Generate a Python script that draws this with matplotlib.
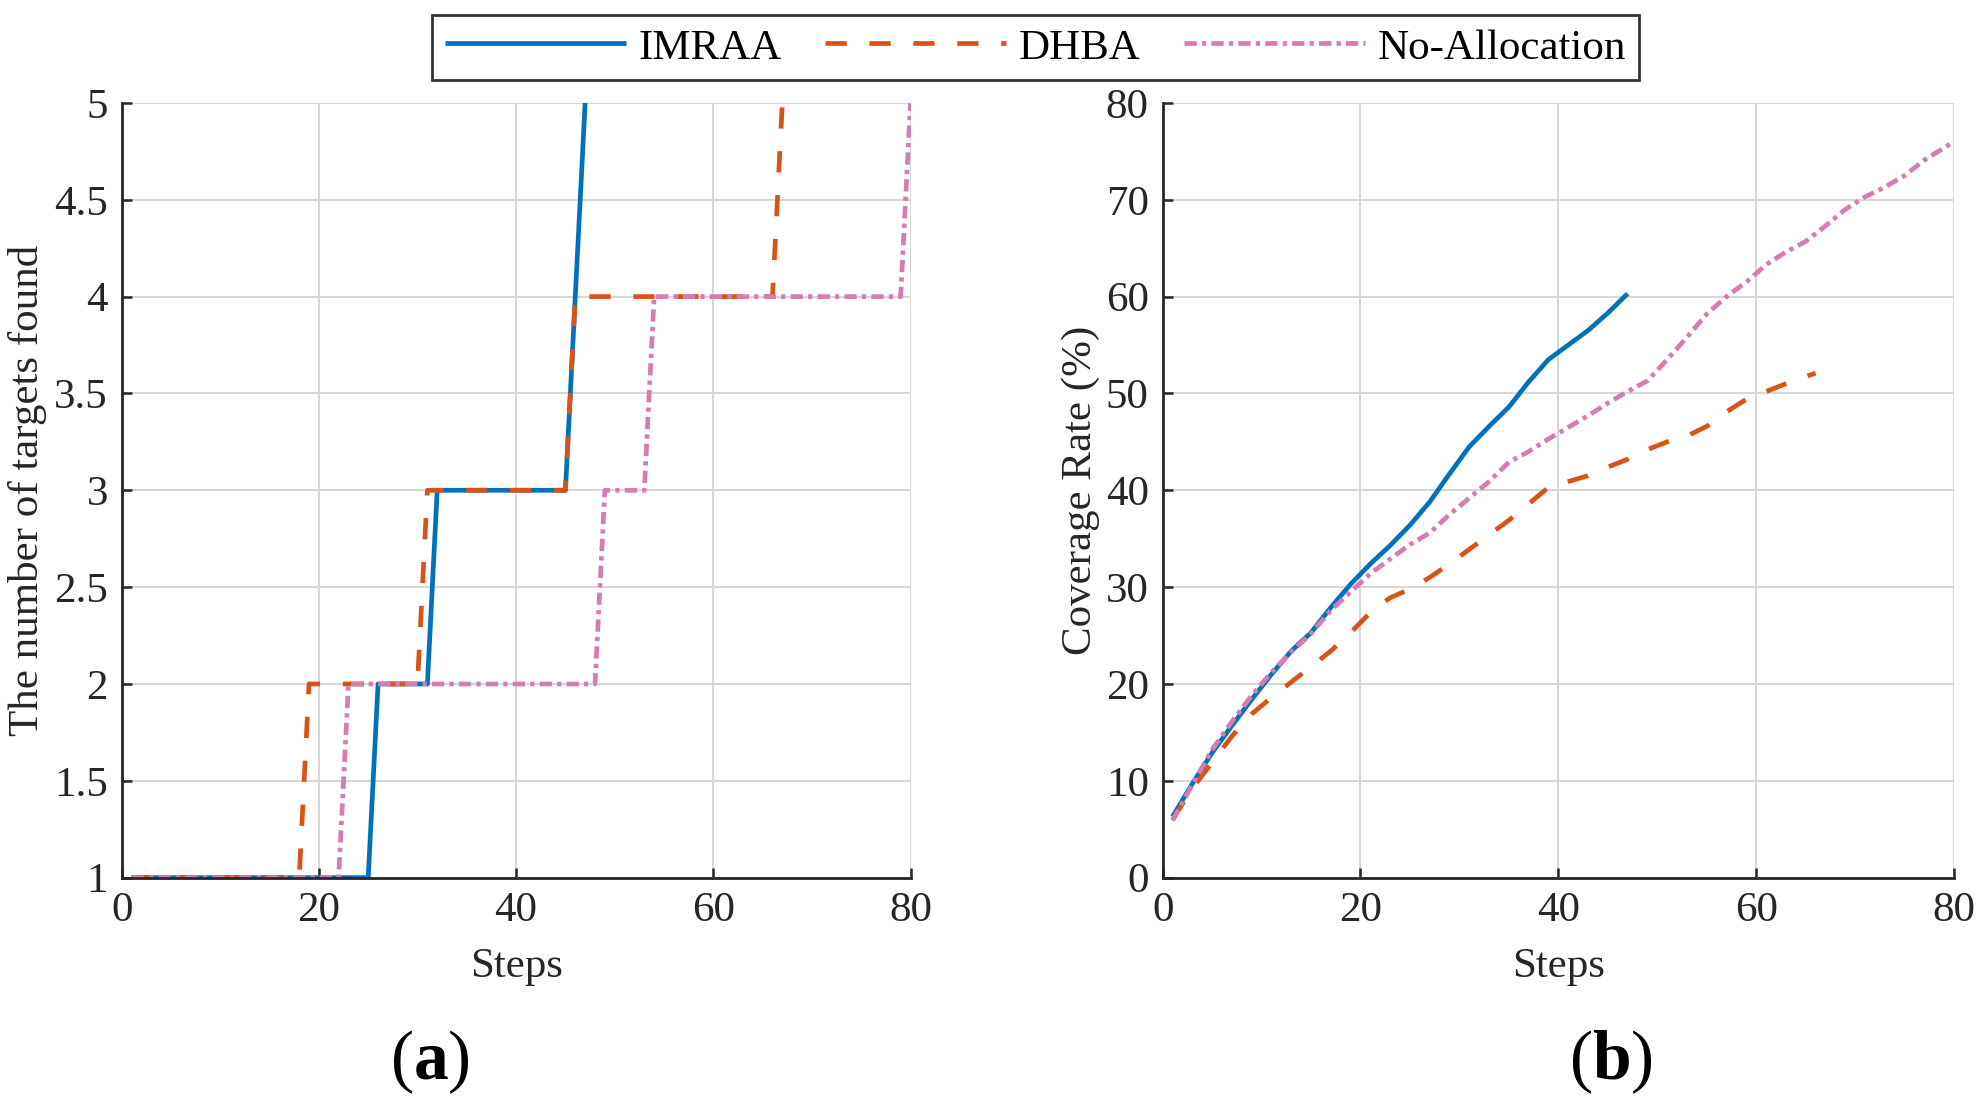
import numpy as np
import matplotlib
matplotlib.use('Agg')
import matplotlib.pyplot as plt
from matplotlib.ticker import FormatStrFormatter

plt.rcParams['font.family'] = ['Liberation Serif', 'DejaVu Serif']
plt.rcParams['mathtext.fontset'] = 'custom'
plt.rcParams['mathtext.rm'] = 'Liberation Serif'
plt.rcParams['mathtext.bf'] = 'Liberation Serif:bold'

# (a) number of targets found, break points of each step curve
steps_imraa_a = [1, 25, 26, 31, 32, 45, 46, 47]
found_imraa = [1, 1, 2, 2, 3, 3, 4, 5]
steps_dhba_a = [1, 18, 19, 30, 31, 45, 46, 66, 67]
found_dhba = [1, 1, 2, 2, 3, 3, 4, 4, 5]
steps_noalloc_a = [1, 22, 23, 48, 49, 53, 54, 79, 80]
found_noalloc = [1, 1, 2, 2, 3, 3, 4, 4, 5]

# (b) coverage rate (%)
steps_imraa_b = [1, 3, 5, 7, 9, 11, 13, 15, 17, 19, 21, 23, 25, 27, 29, 31,
                 33, 35, 37, 39, 41, 43, 45, 47]
cov_imraa = [6.3, 9.7, 12.9, 15.7, 18.4, 21.0, 23.4, 25.3, 27.9, 30.3, 32.4,
             34.3, 36.4, 38.8, 41.7, 44.5, 46.6, 48.6, 51.2, 53.5, 55.0, 56.5,
             58.3, 60.3]
steps_dhba_b = [1, 3, 5, 7, 9, 11, 13, 15, 17, 19, 21, 23, 25, 27, 29, 31, 33,
                35, 37, 39, 41, 43, 45, 47, 49, 51, 53, 55, 57, 59, 61, 63, 66]
cov_dhba = [6.0, 9.2, 11.9, 14.6, 16.9, 18.6, 20.2, 21.8, 23.4, 25.3, 27.4,
            28.9, 29.8, 31.0, 32.4, 33.9, 35.4, 36.9, 38.6, 40.3, 40.9, 41.5,
            42.4, 43.2, 44.2, 45.0, 45.6, 46.6, 48.1, 49.4, 50.2, 51.0, 52.1]
steps_noalloc_b = [1, 3, 5, 7, 9, 11, 13, 15, 17, 19, 21, 23, 25, 27, 29, 31,
                   33, 35, 37, 39, 41, 43, 45, 47, 49, 51, 53, 55, 57, 59, 61,
                   63, 65, 67, 69, 71, 73, 75, 77, 80]
cov_noalloc = [5.9, 9.6, 13.2, 16.1, 18.8, 21.2, 23.3, 25.2, 27.6, 29.5, 31.4,
               32.9, 34.4, 35.6, 37.5, 39.2, 40.9, 42.9, 44.0, 45.3, 46.5, 47.7,
               49.0, 50.2, 51.3, 53.5, 55.8, 58.2, 60.0, 61.5, 63.3, 64.6, 65.7,
               67.3, 69.0, 70.3, 71.3, 72.5, 74.1, 76.0]

labels = ['IMRAA', 'DHBA', 'No-Allocation']
colors = ['#0072BD', '#D95319', '#D57CB2']
lw = 3.4
# dash patterns in units of line width
dashes = [None, (4.5, 4.8), (2.6, 1.1, 0.9, 1.1)]
fs = 31
dark = '#262626'

fig = plt.figure(figsize=(19.82, 11.03), dpi=100)
ax1 = fig.add_axes([0.0614, 0.2043, 0.398, 0.7024])
ax2 = fig.add_axes([0.5866, 0.2043, 0.3993, 0.7024])


def draw(ax, xs, ys):
    handles = []
    for x, y, c, d, lab in zip(xs, ys, colors, dashes, labels):
        line, = ax.plot(x, y, color=c, lw=lw, label=lab, solid_capstyle='butt')
        if d is not None:
            line.set_dashes(d)
        handles.append(line)
    return handles


handles = draw(ax1, [steps_imraa_a, steps_dhba_a, steps_noalloc_a],
               [found_imraa, found_dhba, found_noalloc])
draw(ax2, [steps_imraa_b, steps_dhba_b, steps_noalloc_b],
     [cov_imraa, cov_dhba, cov_noalloc])

ax1.set_xlim(0, 80)
ax1.set_ylim(1, 5)
ax1.set_yticks(np.arange(1, 5.01, 0.5))
ax1.yaxis.set_major_formatter(FormatStrFormatter('%g'))
ax1.set_ylabel('The number of targets found', fontsize=fs)

ax2.set_xlim(0, 80)
ax2.set_ylim(0, 80)
ax2.set_yticks(np.arange(0, 81, 10))
ax2.set_ylabel('Coverage Rate (%)', fontsize=fs)

for ax, ylx in ((ax1, -0.119), (ax2, -0.103)):
    ax.set_xticks([0, 20, 40, 60, 80])
    ax.set_xlabel('Steps', fontsize=fs)
    ax.xaxis.label.set_va('center')
    ax.xaxis.set_label_coords(0.5, -0.115)
    ax.yaxis.label.set_va('center')
    ax.yaxis.set_label_coords(ylx, 0.5)
    ax.xaxis.label.set_color(dark)
    ax.yaxis.label.set_color(dark)
    ax.grid(True, color='#d6d6d6', lw=1.4)
    ax.set_axisbelow(True)
    for s in ('top', 'right'):
        ax.spines[s].set_visible(False)
    for s in ('left', 'bottom'):
        ax.spines[s].set_color(dark)
        ax.spines[s].set_linewidth(2.0)
    ax.tick_params(direction='in', length=7, width=1.8, color=dark,
                   labelsize=fs, labelcolor=dark, pad=10)

leg = fig.legend(handles=handles, labels=labels, loc='center',
                 bbox_to_anchor=(0.5225, 0.9565), ncol=3, fontsize=fs,
                 handlelength=4.2, handletextpad=0.3, columnspacing=1.0,
                 frameon=True, fancybox=False, borderpad=0.3,
                 borderaxespad=0)
leg.get_frame().set_edgecolor('black')
leg.get_frame().set_linewidth(2.0)

fig.text(0.217, 0.037, r'$(\mathbf{a})$', fontsize=50, ha='center', va='center')
fig.text(0.813, 0.037, r'$(\mathbf{b})$', fontsize=50, ha='center', va='center')

fig.savefig('out.png', dpi=100)
